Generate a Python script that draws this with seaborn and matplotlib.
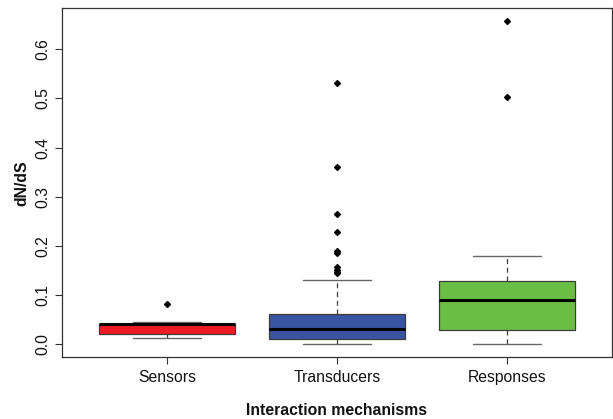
import matplotlib
matplotlib.use("Agg")
import matplotlib.pyplot as plt
import seaborn as sns
import pandas as pd

# dN/dS values per interaction mechanism
categories = ["Sensors", "Transducers", "Responses"]

sensors = [0.0122, 0.0165, 0.0203, 0.0290, 0.0419, 0.0419, 0.0419, 0.0453, 0.0825]

transducers = [
    0.0, 0.0005, 0.0012, 0.0021, 0.0030, 0.0038, 0.0049, 0.0057, 0.0068, 0.0079, 0.0090, 0.0102,
    0.0114,
    0.0131, 0.0148, 0.0166, 0.0187, 0.0208, 0.0226, 0.0247, 0.0265, 0.0281, 0.0293, 0.0305,
    0.0317,
    0.0338, 0.0361, 0.0383, 0.0402, 0.0428, 0.0457, 0.0489, 0.0516, 0.0549, 0.0578, 0.0603,
    0.0616,
    0.0850, 0.1300,
    0.1440, 0.1470, 0.1520, 0.1580, 0.1860, 0.1900, 0.2276, 0.2648, 0.3598, 0.5305,
]

responses = [0.0, 0.0120, 0.0210, 0.0285, 0.0450, 0.0680, 0.0907,
             0.1040, 0.1170, 0.1280, 0.1800, 0.5020, 0.6565]

box_colors = ["#ED1C24", "#3A54A4", "#6ABD45"]
y_ticks = [0.0, 0.1, 0.2, 0.3, 0.4, 0.5, 0.6]

df = pd.DataFrame({
    "mechanism": (["Sensors"] * len(sensors)
                  + ["Transducers"] * len(transducers)
                  + ["Responses"] * len(responses)),
    "dnds": sensors + transducers + responses,
})

sns.set_style("white")
plt.rcParams["font.family"] = ["Liberation Sans", "DejaVu Sans"]

W, H = 613, 419
fig = plt.figure(figsize=(W / 100, H / 100), dpi=100)
ax = fig.add_axes([62 / W, (H - 357.3) / H, 550 / W, 349 / H])

edge = "#3c3c3c"
sns.boxplot(
    data=df, x="mechanism", y="dnds", hue="mechanism",
    order=categories, hue_order=categories,
    palette=box_colors, saturation=1, width=0.8, legend=False,
    linecolor=edge, linewidth=0.9, fliersize=3.0,
    whiskerprops=dict(linestyle=(0, (4, 3)), color=edge, linewidth=0.9),
    capprops=dict(color="#666666", linewidth=1.0),
    medianprops=dict(color="black", linewidth=2.2),
    flierprops=dict(marker="D", markerfacecolor="black",
                    markeredgecolor="black", markersize=3.0),
    ax=ax,
)

ax.set_xlim(-0.62, 2.62)
ax.set_ylim(-0.0264, 0.683)
ax.set_yticks(y_ticks)
ax.set_yticklabels([f"{v:.1f}" for v in y_ticks], rotation=90, va="center")
ax.set_xticks(range(len(categories)))
ax.set_xticklabels(categories)

for sp in ax.spines.values():
    sp.set_visible(True)
    sp.set_color("#333333")
    sp.set_linewidth(0.9)

ax.tick_params(axis="both", direction="out", length=5, width=0.8,
               color="#333333", labelsize=11.3, labelcolor="#111111",
               left=True, bottom=True)
ax.tick_params(axis="x", pad=4)
ax.tick_params(axis="y", pad=3.5)

ax.set_xlabel("Interaction mechanisms", fontsize=11.3, fontweight="bold", color="#111111")
ax.set_ylabel("dN/dS", fontsize=11.3, fontweight="bold", color="#111111")
ax.xaxis.set_label_coords(0.5, -0.131)
ax.yaxis.set_label_coords(-0.06, 0.5)

fig.savefig("out.png", dpi=100, facecolor="white")
